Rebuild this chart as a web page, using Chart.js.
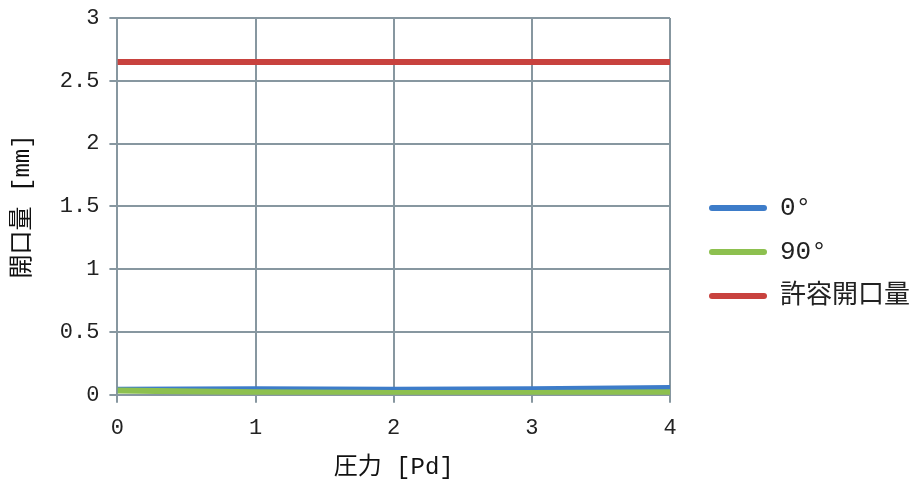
<!DOCTYPE html>
<html>
<head>
<meta charset="utf-8">
<script src="https://cdn.jsdelivr.net/npm/chart.js@4/dist/chart.umd.min.js"></script>
<style>
  html, body { margin: 0; padding: 0; background: #fff; }
  #wrap { width: 920px; height: 482px; }
</style>
</head>
<body>
<div id="wrap"><canvas id="myChart"></canvas></div>
<script>
// データ
var pressure = [0, 1, 2, 3, 4];           // 圧力 [Pd]
var open0 = [0.04, 0.045, 0.04, 0.045, 0.055];   // 0°
var open90 = [0.035, 0.02, 0.015, 0.015, 0.02];  // 90°
var allowable = [2.65, 2.65, 2.65, 2.65, 2.65];  // 許容開口量
var seriesNames = ['0°', '90°', '許容開口量'];

var FONT = '"Liberation Mono", "Noto Sans CJK JP", monospace';
var GRID = '#8797a0';

function pts(ys) {
    return pressure.map(function (x, i) { return { x: x, y: ys[i] }; });
}

var ctx = document.getElementById('myChart');
var myChart = new Chart(ctx, {
    type: 'line',
    data: {
        datasets: [
            { label: seriesNames[0], data: pts(open0), borderColor: '#3d7cc9', backgroundColor: '#3d7cc9', order: 3 },
            { label: seriesNames[1], data: pts(open90), borderColor: '#8dc04f', backgroundColor: '#8dc04f', order: 2 },
            { label: seriesNames[2], data: pts(allowable), borderColor: '#c8423e', backgroundColor: '#c8423e', order: 1 }
        ]
    },
    options: {
        responsive: true,
        maintainAspectRatio: false,
        animation: false,
        elements: {
            line: { borderWidth: 6, tension: 0 },
            point: { radius: 0 }
        },
        layout: { padding: { left: 4, top: 0, right: 0, bottom: 0 } },
        scales: {
            x: {
                type: 'linear',
                min: 0, max: 4,
                ticks: { stepSize: 1, color: '#222', padding: 12, font: { family: FONT, size: 22 } },
                grid: { color: GRID, lineWidth: 2, tickLength: 8 },
                border: { color: GRID, width: 2 },
                title: { display: true, text: '圧力 [Pd]', color: '#111', padding: { top: 0, bottom: 0 }, font: { family: FONT, size: 24 } }
            },
            y: {
                min: 0, max: 3,
                ticks: {
                    stepSize: 0.5, color: '#222', padding: 10, font: { family: FONT, size: 22 },
                    callback: function (v) { return String(+v.toFixed(2)); }
                },
                grid: { color: GRID, lineWidth: 2, tickLength: 8 },
                border: { color: GRID, width: 2 },
                title: { display: true, text: '開口量 [mm]', color: '#111', padding: { top: 4, bottom: 13 }, font: { family: FONT, size: 24 } },
                afterFit: function (s) { s.paddingTop = 18; }
            },
            // 凡例とのすき間用
            gap: {
                position: 'right',
                display: true,
                ticks: { display: false },
                grid: { display: false },
                border: { display: false },
                afterFit: function (s) { s.width = 21; s.paddingTop = 0; }
            }
        },
        plugins: {
            tooltip: { enabled: false },
            legend: {
                position: 'right',
                maxWidth: 320,
                title: { display: true, text: ' ', font: { size: 10 }, padding: 5 },
                labels: {
                    boxWidth: 58,
                    boxHeight: 6,
                    padding: 18,
                    color: '#222',
                    useBorderRadius: true,
                    borderRadius: 3,
                    font: { family: FONT, size: 26 },
                    sort: function (a, b) { return a.datasetIndex - b.datasetIndex; },
                    generateLabels: function (chart) {
                        return Chart.defaults.plugins.legend.labels.generateLabels(chart).map(function (l) {
                            l.lineWidth = 0;
                            l.fillStyle = l.strokeStyle;
                            return l;
                        });
                    }
                }
            }
        }
    }
});
</script>
</body>
</html>
